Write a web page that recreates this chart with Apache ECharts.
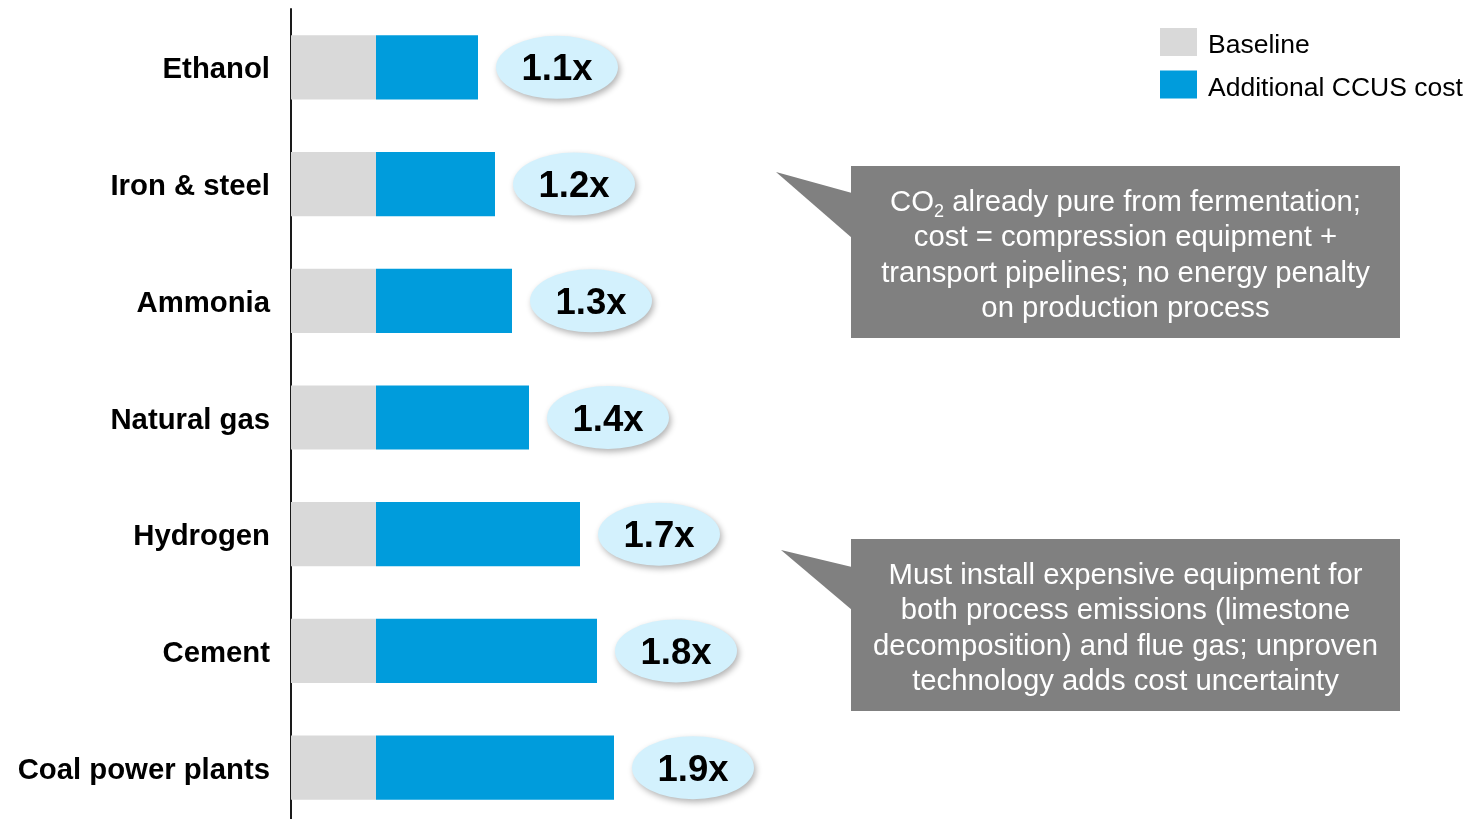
<!DOCTYPE html>
<html>
<head>
<meta charset="utf-8">
<script src="https://cdn.jsdelivr.net/npm/echarts@6/dist/echarts.min.js"></script>
<style>
  html, body { margin: 0; padding: 0; background: #ffffff; overflow: hidden; }
  #chart { width: 1468px; height: 830px; }
</style>
</head>
<body>
<div id="chart"></div>
<script>
// Sectors, top to bottom
const sectors = ['Ethanol', 'Iron & steel', 'Ammonia', 'Natural gas', 'Hydrogen', 'Cement', 'Coal power plants'];
// Bar segment lengths (baseline = 1)
const baseline = [1, 1, 1, 1, 1, 1, 1];
const additionalCost = [1.2, 1.4, 1.6, 1.8, 2.4, 2.6, 2.8];
// Cost multipliers shown in the bubbles
const multipliers = [1.1, 1.2, 1.3, 1.4, 1.7, 1.8, 1.9];

const FONT = '"Liberation Sans", Arial, Helvetica, sans-serif';
const BOX_GRAY = '#808080';

const chart = echarts.init(document.getElementById('chart'), null, { renderer: 'canvas' });

const bubbleData = sectors.map((s, i) => [baseline[i] + additionalCost[i], s, multipliers[i]]);

// Callout box: rectangle with a pointer on its left side
function callout(top, tip, baseTop, baseBottom, lines) {
  const left = 851, right = 1400, height = 172;
  return {
    type: 'group',
    children: [
      {
        type: 'polygon',
        shape: { points: [[tip[0], tip[1]], [left + 1, baseTop], [left + 1, baseBottom]] },
        style: { fill: BOX_GRAY }
      },
      {
        type: 'rect',
        shape: { x: left, y: top, width: right - left, height: height },
        style: { fill: BOX_GRAY }
      },
      {
        type: 'text',
        x: (left + right) / 2,
        y: top + height / 2 + 4,
        style: {
          text: lines,
          fill: '#ffffff',
          font: '29.3px ' + FONT,
          lineHeight: 35.3,
          align: 'center',
          verticalAlign: 'middle',
          rich: {
            sub: { fontSize: 18, fontFamily: FONT, fill: '#ffffff', verticalAlign: 'bottom', padding: [15, 0, 0, 0], lineHeight: 35.3 }
          }
        }
      }
    ]
  };
}

chart.setOption({
  animation: false,
  backgroundColor: '#ffffff',
  textStyle: { fontFamily: FONT },
  grid: { left: 291, top: 9, width: 850, height: 817, containLabel: false },
  xAxis: {
    type: 'value',
    min: 0,
    max: 10,
    show: false
  },
  yAxis: {
    type: 'category',
    data: sectors,
    inverse: true,
    axisLine: { show: true, lineStyle: { color: '#1a1a1a', width: 2 } },
    axisTick: { show: false },
    splitLine: { show: false },
    axisLabel: {
      margin: 21,
      formatter: v => '{c|' + v + '}',
      rich: {
        c: {
          color: '#000000',
          fontFamily: FONT,
          fontWeight: 'bold',
          fontSize: 29.3,
          padding: [6, 0, 0, 0]
        }
      }
    }
  },
  legend: {
    left: 1160,
    top: 28,
    orient: 'vertical',
    itemWidth: 37,
    itemHeight: 28,
    itemGap: 11,
    icon: 'rect',
    padding: 0,
    data: ['Baseline', 'Additional CCUS cost'],
    formatter: n => '{t|' + n + '}',
    textStyle: {
      rich: {
        t: { fontFamily: FONT, fontSize: 26.5, color: '#000000', padding: [8, 0, 0, 6] }
      }
    }
  },
  series: [
    {
      name: 'Baseline',
      type: 'bar',
      stack: 'cost',
      barWidth: '55%',
      data: baseline,
      itemStyle: { color: '#d9d9d9' }
    },
    {
      name: 'Additional CCUS cost',
      type: 'bar',
      stack: 'cost',
      barWidth: '55%',
      data: additionalCost,
      itemStyle: { color: '#009cdc' }
    },
    {
      name: 'multiplier',
      type: 'scatter',
      data: bubbleData,
      encode: { x: 0, y: 1 },
      symbol: 'circle',
      symbolSize: [122, 63],
      symbolOffset: [79, 0],
      itemStyle: {
        color: '#d3f1fd',
        opacity: 1,
        shadowBlur: 6,
        shadowColor: 'rgba(0,0,0,0.3)',
        shadowOffsetX: 2,
        shadowOffsetY: 3
      },
      label: {
        show: true,
        position: 'inside',
        offset: [0, 3],
        formatter: p => p.value[2] + 'x',
        color: '#000000',
        fontFamily: FONT,
        fontWeight: 'bold',
        fontSize: 36.5
      },
      z: 3
    }
  ],
  graphic: [
    callout(166, [776, 172], 193, 238,
      'CO{sub|2} already pure from fermentation;\ncost = compression equipment +\ntransport pipelines; no energy penalty\non production process'),
    callout(539, [781, 550], 567, 610,
      'Must install expensive equipment for\nboth process emissions (limestone\ndecomposition) and flue gas; unproven\ntechnology adds cost uncertainty')
  ]
});
</script>
</body>
</html>
